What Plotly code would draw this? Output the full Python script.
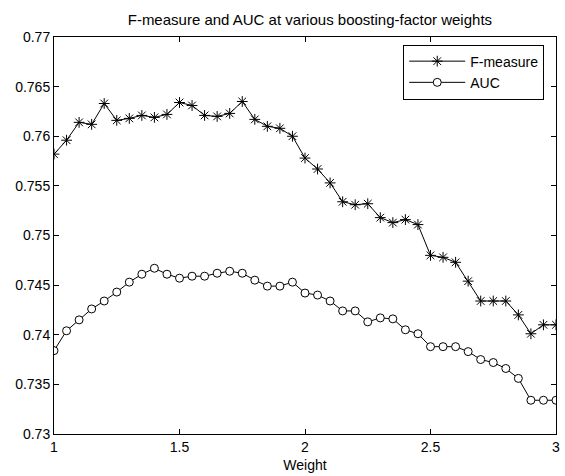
import plotly.graph_objects as go

weights = [round(1 + 0.05 * i, 2) for i in range(41)]

f_measure = [0.7582, 0.7596, 0.7614, 0.7612, 0.7633, 0.7616, 0.7618, 0.7621, 0.7619, 0.7622,
             0.7634, 0.7631, 0.7621, 0.7620, 0.7623, 0.7635, 0.7617, 0.7610, 0.7608, 0.7600,
             0.7578, 0.7567, 0.7553, 0.7534, 0.7531, 0.7532, 0.7518, 0.7513, 0.7516, 0.7511,
             0.7480, 0.7478, 0.7473, 0.7454, 0.7434, 0.7434, 0.7434, 0.7420, 0.7401, 0.7410,
             0.7410]

auc = [0.7384, 0.7404, 0.7415, 0.7426, 0.7434, 0.7443, 0.7453, 0.7461, 0.7467, 0.7461,
       0.7457, 0.7459, 0.7459, 0.7462, 0.7464, 0.7462, 0.7455, 0.7449, 0.7449, 0.7453,
       0.7442, 0.7440, 0.7434, 0.7424, 0.7424, 0.7413, 0.7417, 0.7416, 0.7405, 0.7401,
       0.7388, 0.7388, 0.7388, 0.7383, 0.7375, 0.7372, 0.7366, 0.7356, 0.7334, 0.7334,
       0.7334]

x_ticks = [1, 1.5, 2, 2.5, 3]
x_tick_labels = ["1", "1.5", "2", "2.5", "3"]
y_ticks = [0.73, 0.735, 0.74, 0.745, 0.75, 0.755, 0.76, 0.765, 0.77]
y_tick_labels = ["0.73", "0.735", "0.74", "0.745", "0.75", "0.755", "0.76", "0.765", "0.77"]

FONT = "Liberation Sans, Arial, sans-serif"

fig = go.Figure()
fig.add_trace(go.Scatter(
    x=weights, y=f_measure, name="F-measure", mode="lines+markers",
    line=dict(color="black", width=1),
    marker=dict(symbol="asterisk-open", size=9, color="black",
                line=dict(color="black", width=1)),
))
fig.add_trace(go.Scatter(
    x=weights, y=auc, name="AUC", mode="lines+markers",
    line=dict(color="black", width=1),
    marker=dict(symbol="circle", size=8, color="white",
                line=dict(color="black", width=1)),
))

axis_common = dict(
    showgrid=False, zeroline=False, showline=True, linecolor="black", linewidth=1,
    mirror="ticks", ticks="inside", ticklen=5, tickcolor="black",
    tickfont=dict(family=FONT, size=14, color="black"),
)

fig.update_layout(
    width=565, height=476,
    margin=dict(l=54, r=5, t=37, b=42),
    paper_bgcolor="white", plot_bgcolor="white",
    title=dict(text="F-measure and AUC at various boosting-factor weights",
               x=0.5485, xanchor="center", y=1 - 20 / 476, yanchor="middle",
               font=dict(family=FONT, size=15, color="black")),
    xaxis=dict(range=[1, 3], tickvals=x_ticks, ticktext=x_tick_labels,
               title=dict(text="Weight", font=dict(family=FONT, size=14, color="black"),
                          standoff=6),
               **axis_common),
    yaxis=dict(range=[0.73, 0.77], tickvals=y_ticks, ticktext=y_tick_labels,
               **axis_common),
    legend=dict(x=0.6957, y=0.981, xanchor="left", yanchor="top",
                bgcolor="white", bordercolor="black", borderwidth=1,
                font=dict(family=FONT, size=14, color="black"),
                tracegroupgap=0, itemwidth=56),
    showlegend=True,
)

fig.write_html("out.html")
